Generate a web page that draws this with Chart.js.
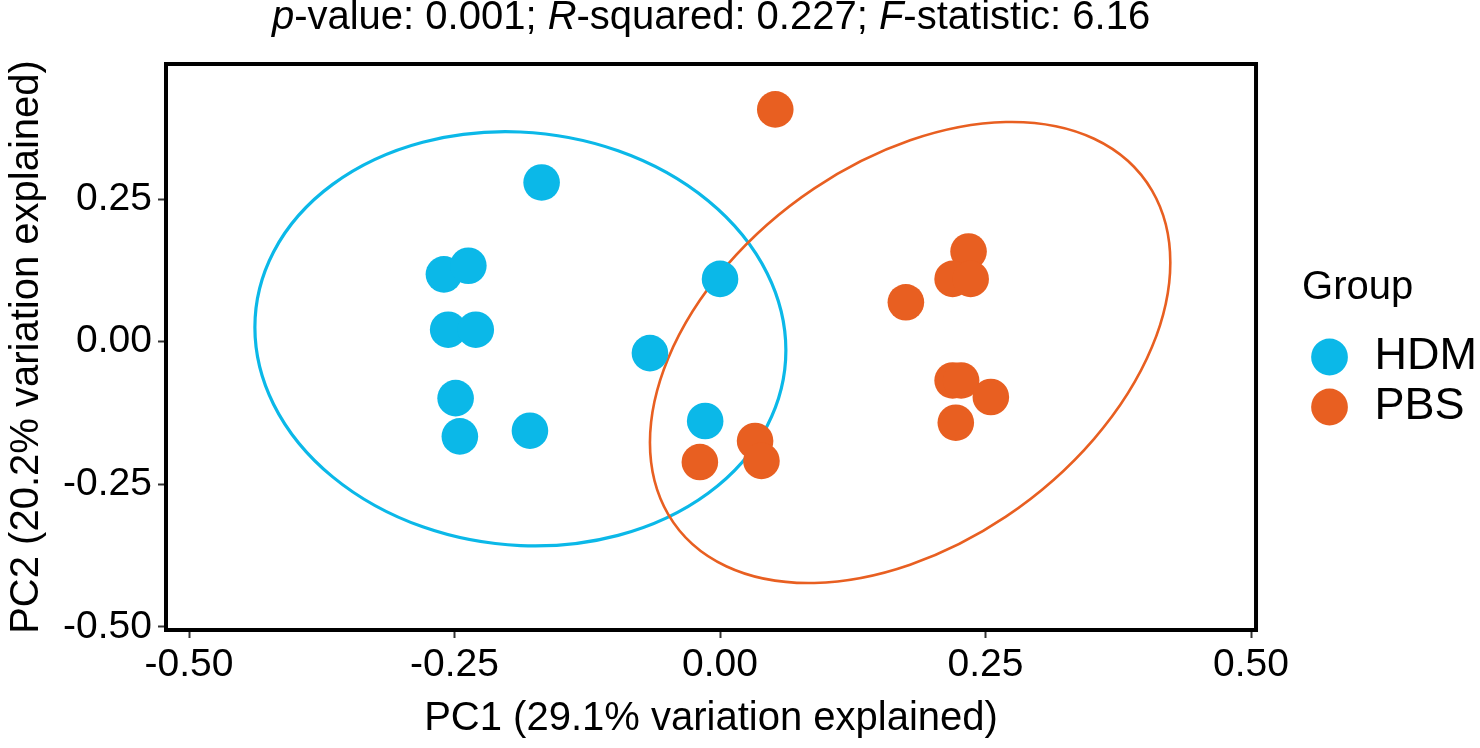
<!DOCTYPE html>
<html>
<head>
<meta charset="utf-8">
<title>PCA by group</title>
<script src="https://cdn.jsdelivr.net/npm/chart.js@4.4.1/dist/chart.umd.min.js"></script>
<style>
  html, body { margin: 0; padding: 0; background: #fff; }
  #pca_wrap { width: 1480px; height: 748px; }
</style>
</head>
<body>
<div id="pca_wrap"><canvas id="pca_chart" width="1480" height="748"></canvas></div>
<script>
// values
const groups = ['HDM', 'PBS'];
const hdmX = [-0.168, -0.260, -0.237, -0.256, -0.230, -0.249, -0.245, -0.179, -0.066, 0.000, -0.014];
const hdmY = [0.279, 0.118, 0.133, 0.021, 0.021, -0.099, -0.166, -0.156, -0.020, 0.110, -0.139];
const pbsX = [0.052, 0.234, 0.219, 0.236, 0.175, 0.219, 0.227, 0.255, 0.222, 0.033, 0.039, -0.019];
const pbsY = [0.407, 0.158, 0.110, 0.110, 0.069, -0.068, -0.068, -0.097, -0.142, -0.174, -0.209, -0.211];

const xTicks = [-0.5, -0.25, 0, 0.25, 0.5];
const yTicks = [-0.5, -0.25, 0, 0.25];

// group ellipses: centre, half extent in x and y, phase (deg) of the y swing against x
const ellipseCx = [-0.188, 0.179];
const ellipseCy = [0.005, -0.019];
const ellipseHalfX = [0.250, 0.245];
const ellipseHalfY = [0.363, 0.404];
const ellipsePhase = [93.2, 67.0];

const titleParts = [['p', true], ['-value: 0.001; ', false], ['R', true], ['-squared: 0.227; ', false], ['F', true], ['-statistic: 6.16', false]];

const groupColors = ['#0bb8e8', '#e85f21'];
const ellipseWidths = [3.2, 2.6];
const FONT = "'Liberation Sans', Arial, Helvetica, sans-serif";

Chart.defaults.font.family = FONT;
Chart.defaults.color = '#000';

function toPoints(xs, ys){
    return xs.map(function(x, i){ return {x: x, y: ys[i]}; });
}

const ellipsePlugin = {
    id: 'groupEllipses',
    beforeDatasetsDraw(chart){
        const ctx = chart.ctx;
        const xs = chart.scales.x;
        const ys = chart.scales.y;
        for(let i = 0; i < groups.length; i++){
            const px = xs.getPixelForValue(ellipseCx[i]);
            const py = ys.getPixelForValue(ellipseCy[i]);
            const ax = xs.getPixelForValue(ellipseCx[i] + ellipseHalfX[i]) - px;
            const by = ys.getPixelForValue(ellipseCy[i] + ellipseHalfY[i]) - py;
            const phi = ellipsePhase[i] * Math.PI / 180;
            ctx.save();
            ctx.beginPath();
            ctx.translate(px, py);
            ctx.transform(ax, by * Math.cos(phi), 0, by * Math.sin(phi), 0, 0);
            ctx.arc(0, 0, 1, 0, Math.PI * 2);
            ctx.restore();
            ctx.save();
            ctx.lineWidth = ellipseWidths[i];
            ctx.strokeStyle = groupColors[i];
            ctx.stroke();
            ctx.restore();
        }
    }
};

const framePlugin = {
    id: 'panelFrame',
    afterDraw(chart){
        const ctx = chart.ctx;
        const a = chart.chartArea;
        ctx.save();
        ctx.lineWidth = 4;
        ctx.strokeStyle = '#000';
        ctx.strokeRect(a.left, a.top, a.right - a.left, a.bottom - a.top);

        // title with italic statistic letters, centred over the panel
        ctx.fillStyle = '#000';
        ctx.textBaseline = 'alphabetic';
        let total = 0;
        const widths = titleParts.map(function(p){
            ctx.font = (p[1] ? 'italic ' : '') + '40px ' + FONT;
            const w = ctx.measureText(p[0]).width;
            total += w;
            return w;
        });
        let x = (a.left + a.right) / 2 - total / 2;
        titleParts.forEach(function(p, i){
            ctx.font = (p[1] ? 'italic ' : '') + '40px ' + FONT;
            ctx.fillText(p[0], x, 29);
            x += widths[i];
        });
        ctx.restore();
    }
};

function initPcaChart(){
    const ctx = document.getElementById('pca_chart').getContext('2d');
    var chart = new Chart(ctx, {
        type: 'scatter',
        data: {
            datasets: [{
                label: groups[0],
                data: toPoints(hdmX, hdmY),
                backgroundColor: groupColors[0],
                borderColor: groupColors[0],
                borderWidth: 0,
                pointRadius: 18.3,
                pointStyle: 'circle'
            }, {
                label: groups[1],
                data: toPoints(pbsX, pbsY),
                backgroundColor: groupColors[1],
                borderColor: groupColors[1],
                borderWidth: 0,
                pointRadius: 18.3,
                pointStyle: 'circle'
            }]
        },
        options: {
            responsive: false,
            animation: false,
            devicePixelRatio: 1,
            events: [],
            layout: { padding: { top: 64, right: -7, bottom: 0, left: 0 } },
            scales: {
                x: {
                    type: 'linear',
                    min: -0.5217,
                    max: 0.5047,
                    afterBuildTicks: function(s){ s.ticks = xTicks.map(function(v){ return {value: v}; }); },
                    afterFit: function(s){ s.height = 118; },
                    grid: { drawOnChartArea: false, drawTicks: true, tickLength: 8, tickWidth: 2, tickColor: '#333' },
                    border: { display: false },
                    ticks: {
                        maxRotation: 0,
                        autoSkip: false,
                        padding: 4,
                        color: '#000',
                        font: { size: 39 },
                        callback: function(v){ return Number(v).toFixed(2); }
                    },
                    title: { display: true, text: 'PC1 (29.1% variation explained)', color: '#000', font: { size: 40 }, padding: { top: 0, bottom: 5 } }
                },
                y: {
                    type: 'linear',
                    min: -0.5053,
                    max: 0.4866,
                    afterBuildTicks: function(s){ s.ticks = yTicks.map(function(v){ return {value: v}; }); },
                    afterFit: function(s){ s.width = 166; },
                    grid: { drawOnChartArea: false, drawTicks: true, tickLength: 8, tickWidth: 2, tickColor: '#333' },
                    border: { display: false },
                    ticks: {
                        autoSkip: false,
                        padding: 6,
                        color: '#000',
                        font: { size: 39 },
                        callback: function(v){ return Number(v).toFixed(2); }
                    },
                    title: { display: true, text: 'PC2 (20.2% variation explained)', color: '#000', font: { size: 40 }, padding: { top: 3, bottom: 0 } }
                },
                gap: {
                    type: 'linear',
                    position: 'right',
                    display: true,
                    grid: { display: false },
                    border: { display: false },
                    ticks: { display: false },
                    afterFit: function(s){ s.width = 46; }
                }
            },
            plugins: {
                tooltip: { enabled: false },
                legend: {
                    position: 'right',
                    align: 'center',
                    fullSize: false,
                    title: { display: true, text: 'Group', position: 'start', color: '#000', font: { size: 40 }, padding: { top: 8.5, bottom: 13.5 } },
                    labels: { usePointStyle: true, pointStyle: 'circle', boxWidth: 45, boxHeight: 26, padding: 5, color: '#000', font: { size: 45 } }
                }
            }
        },
        plugins: [ellipsePlugin, framePlugin]
    });
}

initPcaChart();
</script>
</body>
</html>
